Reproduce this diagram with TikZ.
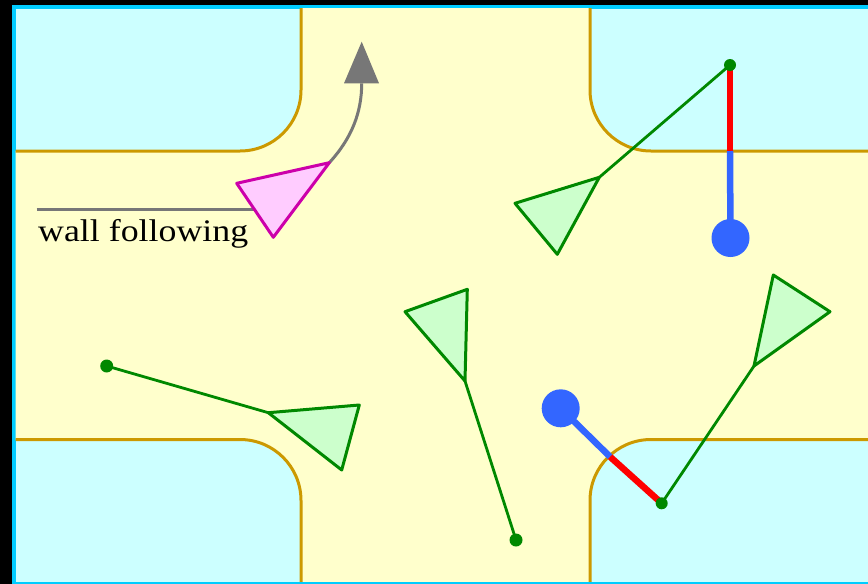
\documentclass[tikz,border=0pt]{standalone}
\usepackage{fontspec}
\setmainfont{Liberation Serif}
\usepackage{graphicx}
\definecolor{framecol}{RGB}{0,204,255}
\definecolor{blockcol}{RGB}{204,255,255}
\definecolor{roadcol}{RGB}{255,255,204}
\definecolor{curbcol}{RGB}{204,153,0}
\definecolor{robgreen}{RGB}{0,136,0}
\definecolor{robfill}{RGB}{204,255,204}
\definecolor{pinkline}{RGB}{204,0,170}
\definecolor{pinkfill}{RGB}{255,204,255}
\definecolor{sensred}{RGB}{255,0,0}
\definecolor{sensblue}{RGB}{51,102,255}
\definecolor{arrgray}{RGB}{119,119,119}
\begin{document}
\begin{tikzpicture}[x=1pt,y=-1pt,
  curb/.style={draw=curbcol,line width=3pt,rounded corners=61pt},
  robotbody/.style={draw=robgreen,fill=robfill,line width=3pt,line join=round},
  pinkbody/.style={draw=pinkline,fill=pinkfill,line width=3pt,line join=round},
  ray/.style={draw=robgreen,line width=2.8pt},
  dotmark/.style={fill=robgreen},
  redray/.style={draw=sensred,line width=6.5pt},
  blueray/.style={draw=sensblue,line width=6.5pt},
  bluebulb/.style={fill=sensblue},
  grayline/.style={draw=arrgray,line width=3pt}]
\useasboundingbox (0,0) rectangle (868,584);
\fill[black] (0,0) rectangle (868,584);
\fill[framecol] (12,5) rectangle (880,584);
\fill[blockcol] (15.5,8.5) rectangle (880,581.5);
\begin{scope}
\clip (15.5,8.5) rectangle (880,581.5);
\fill[roadcol,rounded corners=61pt]
  (301,-300) -- (590,-300) -- (590,151) -- (1200,151) -- (1200,439.5)
  -- (590,439.5) -- (590,900) -- (301,900) -- (301,439.5) -- (-300,439.5)
  -- (-300,151) -- (301,151) -- cycle;
\draw[curb] (301,-50) -- (301,151) -- (-50,151);
\draw[curb] (590,-50) -- (590,151) -- (950,151);
\draw[curb] (301,650) -- (301,439.5) -- (-50,439.5);
\draw[curb] (590,650) -- (590,439.5) -- (950,439.5);
\end{scope}

% wall-following robot (pink)
\coordinate (pa) at (236.7,183.3);
\coordinate (pb) at (329.3,162.7);
\coordinate (pc) at (273.3,237.3);
\coordinate (gl) at (36.7,209.3);
\coordinate (gr) at (254,209.3);
\coordinate (ab) at (361.7,83.3);
\coordinate (al) at (344,83.3);
\coordinate (ar) at (379,83.3);
\coordinate (at) at (361.7,41.7);
\draw[grayline] (gl) -- (gr);
\draw[grayline] (pb) .. controls (352,138) and (361.7,112) .. (ab);
\fill[arrgray] (al) -- (ar) -- (at) -- cycle;
\draw[pinkbody] (pa) -- (pb) -- (pc) -- cycle;
\node[anchor=base west,inner sep=0pt] (label) at (38,241)
  {\resizebox{210pt}{1.12\height}{\fontsize{28}{30}\selectfont wall following}};

% top-right robot
\coordinate (ta) at (515,203.3);
\coordinate (tb) at (599.3,177.3);
\coordinate (tc) at (557.3,254.3);
\coordinate (td) at (730,65);
\coordinate (tw) at (730,151);
\coordinate (tbulb) at (730.5,238);
\draw[redray] (td) -- (tw);
\draw[blueray] (tw) -- (tbulb);
\fill[bluebulb] (tbulb) circle[radius=19pt];
\draw[ray] (tb) -- (td);
\fill[dotmark] (td) circle[radius=6pt];
\draw[robotbody] (ta) -- (tb) -- (tc) -- cycle;

% bottom-right robot
\coordinate (ra) at (773.3,275);
\coordinate (rb) at (830,311.7);
\coordinate (rc) at (754,366);
\coordinate (rd) at (661.7,503.3);
\coordinate (rw) at (610,456.7);
\coordinate (rbulb) at (560.7,408.3);
\draw[redray] (rd) -- (rw);
\draw[blueray] (rw) -- (rbulb);
\fill[bluebulb] (rbulb) circle[radius=19pt];
\draw[ray] (rc) -- (rd);
\fill[dotmark] (rd) circle[radius=6pt];
\draw[robotbody] (ra) -- (rb) -- (rc) -- cycle;

% bottom-centre robot
\coordinate (ca) at (405,311.7);
\coordinate (cb) at (467.3,289.3);
\coordinate (cc) at (465,381);
\coordinate (cd) at (516,540);
\draw[ray] (cc) -- (cd);
\fill[dotmark] (cd) circle[radius=6.5pt];
\draw[robotbody] (ca) -- (cb) -- (cc) -- cycle;

% left robot
\coordinate (la) at (268.3,412.7);
\coordinate (lb) at (359.3,405);
\coordinate (lc) at (341.7,470);
\coordinate (ld) at (106.7,366);
\draw[ray] (la) -- (ld);
\fill[dotmark] (ld) circle[radius=6.5pt];
\draw[robotbody] (la) -- (lb) -- (lc) -- cycle;
\end{tikzpicture}
\end{document}
